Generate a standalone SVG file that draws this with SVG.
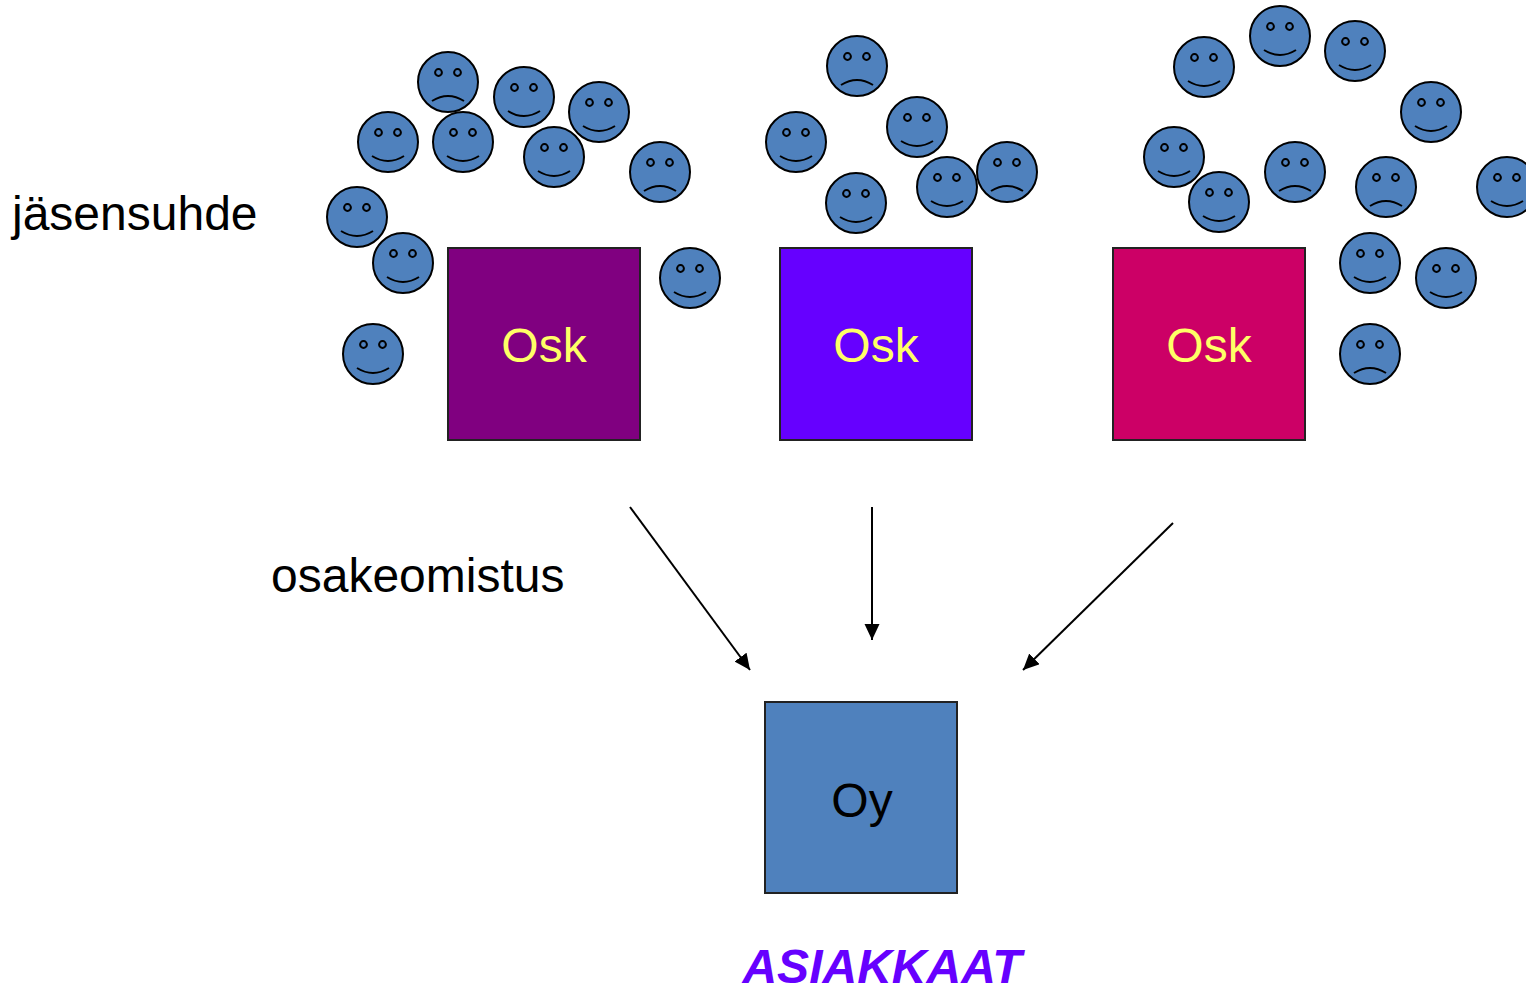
<svg xmlns="http://www.w3.org/2000/svg" xmlns:xlink="http://www.w3.org/1999/xlink" width="1526" height="987" viewBox="0 0 1526 987">
<style>
.face{fill:#4F81BD;stroke:#000;stroke-width:2}
.feat{fill:none;stroke:#000;stroke-width:2}
.box{stroke:#222;stroke-width:2}
.lbl{font-family:"Liberation Sans",Arial,sans-serif;font-size:48px}
.osk{fill:#FFFF66;text-anchor:middle}
.conn{stroke:#000;stroke-width:2;fill:none;marker-end:url(#ah)}
</style>
<defs>
<marker id="ah" markerUnits="userSpaceOnUse" markerWidth="17" markerHeight="16" refX="16" refY="7.5" orient="auto">
<path d="M0,0 L16,7.5 L0,15 z" fill="#000"/>
</marker>
<g id="smile">
<circle class="face" cx="0" cy="0" r="30"/>
<circle class="feat" cx="-9.5" cy="-9.5" r="3.4" stroke-width="1.7"/>
<circle class="feat" cx="9.5" cy="-9.5" r="3.4" stroke-width="1.7"/>
<path class="feat" d="M-16,14 Q0,24 16,14"/>
</g>
<g id="frown">
<circle class="face" cx="0" cy="0" r="30"/>
<circle class="feat" cx="-9.5" cy="-9.5" r="3.4" stroke-width="1.7"/>
<circle class="feat" cx="9.5" cy="-9.5" r="3.4" stroke-width="1.7"/>
<path class="feat" d="M-16,19 Q0,9 16,19"/>
</g>
</defs>
<rect width="1526" height="987" fill="#fff"/>

<g id="members-left">
<use href="#frown" x="448" y="82"/>
<use href="#smile" x="524" y="97"/>
<use href="#smile" x="599" y="112"/>
<use href="#smile" x="388" y="142"/>
<use href="#smile" x="463" y="142"/>
<use href="#smile" x="554" y="157"/>
<use href="#frown" x="660" y="172"/>
<use href="#smile" x="357" y="217"/>
<use href="#smile" x="403" y="263"/>
<use href="#smile" x="690" y="278"/>
<use href="#smile" x="373" y="354"/>
</g>
<g id="members-middle">
<use href="#frown" x="857" y="66"/>
<use href="#smile" x="796" y="142"/>
<use href="#smile" x="917" y="127"/>
<use href="#smile" x="856" y="203"/>
<use href="#smile" x="947" y="187"/>
<use href="#frown" x="1007" y="172"/>
</g>
<g id="members-right">
<use href="#smile" x="1204" y="67"/>
<use href="#smile" x="1280" y="36"/>
<use href="#smile" x="1355" y="51"/>
<use href="#smile" x="1431" y="112"/>
<use href="#smile" x="1174" y="157"/>
<use href="#smile" x="1219" y="202"/>
<use href="#frown" x="1295" y="172"/>
<use href="#frown" x="1386" y="187"/>
<use href="#smile" x="1507" y="187"/>
<use href="#smile" x="1370" y="263"/>
<use href="#smile" x="1446" y="278"/>
<use href="#frown" x="1370" y="354"/>
</g>

<g id="osk1">
<rect class="box" x="448" y="248" width="192" height="192" fill="#800080"/>
<text class="lbl osk" x="544" y="362">Osk</text>
</g>
<g id="osk2">
<rect class="box" x="780" y="248" width="192" height="192" fill="#6600FF"/>
<text class="lbl osk" x="876" y="362">Osk</text>
</g>
<g id="osk3">
<rect class="box" x="1113" y="248" width="192" height="192" fill="#CC0066"/>
<text class="lbl osk" x="1209" y="362">Osk</text>
</g>
<g id="oy">
<rect class="box" x="765" y="702" width="192" height="191" fill="#4F81BD"/>
<text class="lbl" x="862" y="817" text-anchor="middle" fill="#000">Oy</text>
</g>

<g id="connectors">
<line class="conn" x1="630" y1="507" x2="750" y2="670"/>
<line class="conn" x1="872" y1="507" x2="872" y2="640"/>
<line class="conn" x1="1173" y1="523" x2="1023" y2="670"/>
</g>

<g id="labels">
<text class="lbl" x="12" y="230" fill="#000">jäsensuhde</text>
<text class="lbl" x="271" y="592" fill="#000">osakeomistus</text>
<text class="lbl" x="882" y="983" text-anchor="middle" fill="#6600FF" font-weight="bold" font-style="italic">ASIAKKAAT</text>
</g>
</svg>
